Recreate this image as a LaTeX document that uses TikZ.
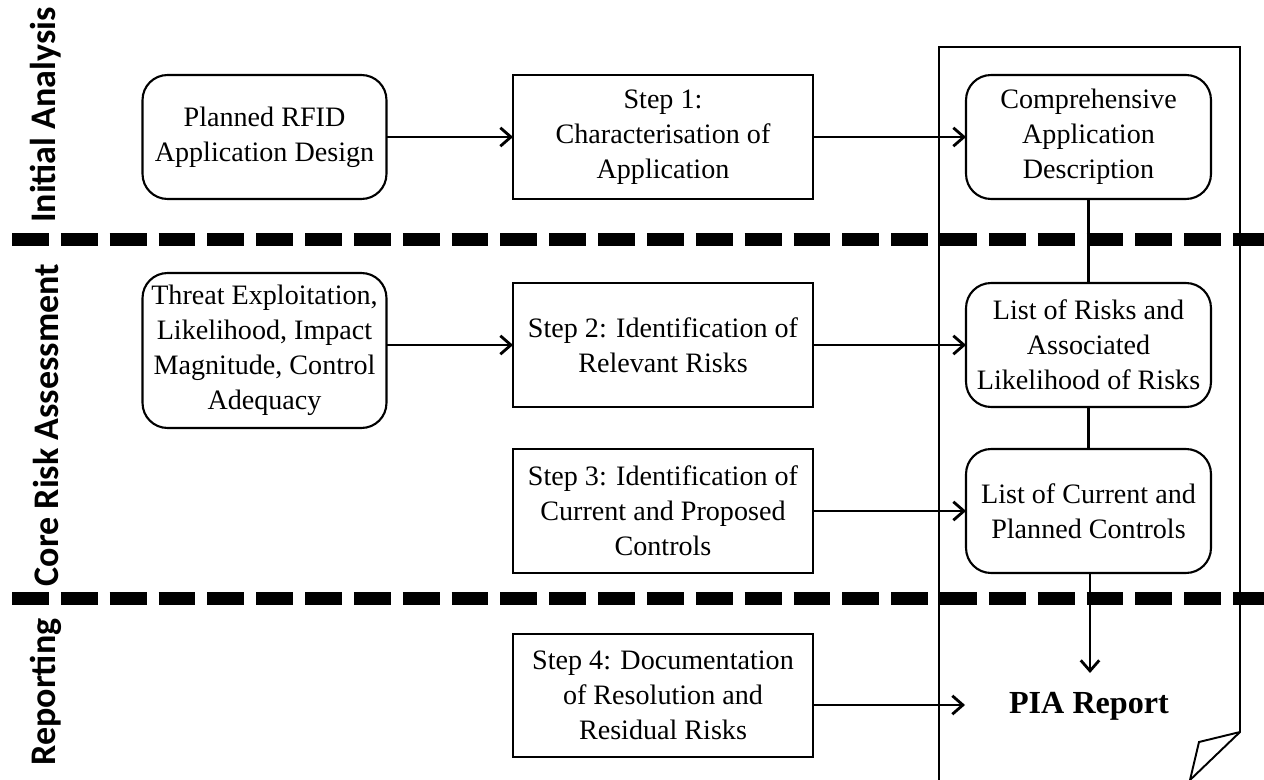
\documentclass[tikz,border=0pt]{standalone}
\usepackage{fontspec}
\setmainfont{Liberation Serif}
\newfontfamily\phasefont{Carlito}
\usetikzlibrary{arrows.meta,calc}
\begin{document}
\begin{tikzpicture}[x=0.02cm,y=-0.02cm,
  every node/.style={inner sep=0pt,outer sep=0pt,align=center,
    font=\fontsize{16}{19.9}\selectfont},
  stepbox/.style={draw,line width=1.2pt,minimum width=6cm,minimum height=2.48cm},
  inbox/.style={draw,line width=1.2pt,rounded corners=0.5cm,
    minimum width=4.88cm,minimum height=2.48cm},
  outbox/.style={inbox,minimum width=4.9cm},
  phase/.style={rotate=90,font=\phasefont\bfseries\fontsize{20.5}{24}\selectfont},
  link/.style={line width=1.6pt},
  arr/.style={link,-{Straight Barb[length=6pt,width=10.5pt,line width=1.6pt]}},
  sep/.style={line width=7.4pt,dash pattern=on 21pt off 6.8pt},
  page/.style={line width=1.1pt,line join=miter}
]
\useasboundingbox (0,0) rectangle (1264,780);

% report page with folded corner
\coordinate (pg1) at (939,780);
\coordinate (pg2) at (939,47);
\coordinate (pg3) at (1240,47);
\coordinate (pg4) at (1240,732);
\coordinate (pg5) at (1190,780);
\coordinate (pgf) at (1199,742);
\draw[page] (pg1) -- (pg2) -- (pg3) -- (pg4) -- (pg5);
\draw[page] (pg4) -- (pgf) -- (pg5);

% phase separators
\coordinate (s1a) at (12,240);
\coordinate (s1b) at (1264,240);
\coordinate (s2a) at (12,598);
\coordinate (s2b) at (1264,598);
\draw[sep] (s1a) -- (s1b);
\draw[sep] (s2a) -- (s2b);

% phase labels
\node[phase] (ph1) at (46,115) {Initial Analysis};
\node[phase] (ph2) at (46,425) {Core Risk Assessment};
\node[phase] (ph3) at (46,692) {Reporting};

% inputs
\node[inbox] (plan) at (264.5,137) {Planned RFID\\Application Design};
\node[inbox,minimum height=3.1cm] (threat) at (264.5,350.5)
  {Threat Exploitation,\\Likelihood, Impact\\Magnitude, Control\\Adequacy};

% steps
\node[stepbox] (s1) at (663,137) {Step 1:\\Characterisation of\\Application};
\node[stepbox] (s2) at (663,345) {Step 2: Identification of\\Relevant Risks};
\node[stepbox] (s3) at (663,511) {Step 3: Identification of\\Current and Proposed\\Controls};
\node[stepbox,minimum height=2.46cm] (s4) at (663,695.5)
  {Step 4: Documentation\\of Resolution and\\Residual Risks};

% outputs
\node[outbox] (desc) at (1088.5,137) {Comprehensive\\Application\\Description};
\node[outbox] (risks) at (1088.5,345) {List of Risks and\\Associated\\Likelihood of Risks};
\node[outbox] (ctrl) at (1088.5,511) {List of Current and\\Planned Controls};
\node[font=\bfseries\fontsize{18.3}{21}\selectfont] (pia) at (1089,706) {PIA Report};

% connectors
\draw[arr] (plan.east) -- (s1.west);
\draw[arr] (s1.east) -- (desc.west);
\draw[arr] (threat.east |- s2.west) -- (s2.west);
\draw[arr] (s2.east) -- (risks.west);
\draw[arr] (s3.east) -- (ctrl.west);
\coordinate (pin) at (965,705);
\draw[arr] (s4.east |- pin) -- (pin);
\draw[link] (desc.south) -- (risks.north);
\draw[link] (risks.south) -- (ctrl.north);
\coordinate (pdown) at (1090,673);
\draw[arr] (ctrl.south -| pdown) -- (pdown);
\end{tikzpicture}
\end{document}
